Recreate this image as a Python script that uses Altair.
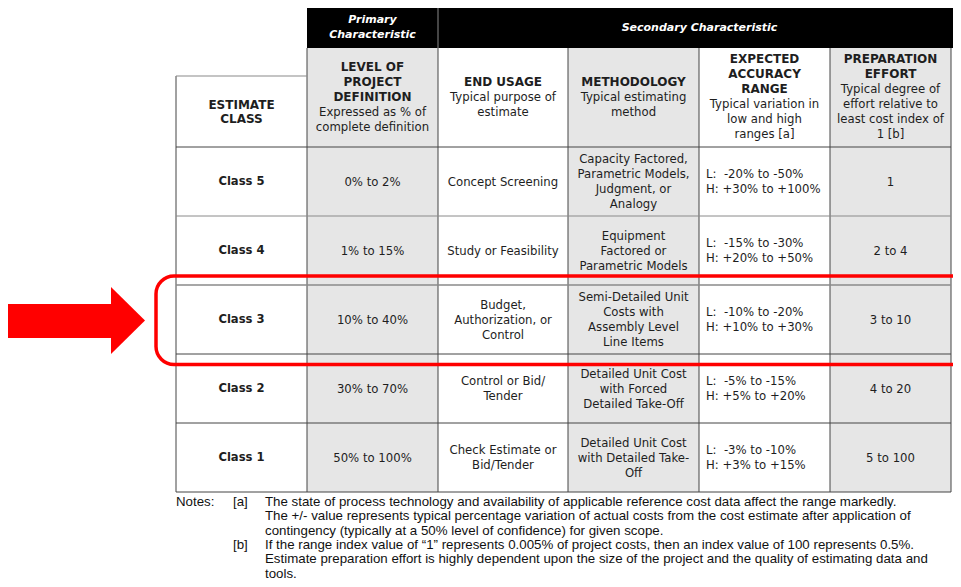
import altair as alt
import pandas as pd

# ---------------- data ----------------
CLASSES = ["Class 5", "Class 4", "Class 3", "Class 2", "Class 1"]
DEFINITION = ["0% to 2%", "1% to 15%", "10% to 40%", "30% to 70%", "50% to 100%"]
END_USAGE = [
    "Concept Screening",
    "Study or Feasibility",
    "Budget,\nAuthorization, or\nControl",
    "Control or Bid/\nTender",
    "Check Estimate or\nBid/Tender",
]
METHODOLOGY = [
    "Capacity Factored,\nParametric Models,\nJudgment, or\nAnalogy",
    "Equipment\nFactored or\nParametric Models",
    "Semi-Detailed Unit\nCosts with\nAssembly Level\nLine Items",
    "Detailed Unit Cost\nwith Forced\nDetailed Take-Off",
    "Detailed Unit Cost\nwith Detailed Take-\nOff",
]
ACCURACY_LOW = ["-20% to -50%", "-15% to -30%", "-10% to -20%", "-5% to -15%", "-3% to -10%"]
ACCURACY_HIGH = ["+30% to +100%", "+20% to +50%", "+10% to +30%", "+5% to +20%", "+3% to +15%"]
EFFORT = ["1", "2 to 4", "3 to 10", "4 to 20", "5 to 100"]

HEADER_TITLES = [
    ["ESTIMATE", "CLASS"],
    ["LEVEL OF", "PROJECT", "DEFINITION"],
    ["END USAGE"],
    ["METHODOLOGY"],
    ["EXPECTED", "ACCURACY", "RANGE"],
    ["PREPARATION", "EFFORT"],
]
HEADER_SUBTITLES = [
    [],
    ["Expressed as % of", "complete definition"],
    ["Typical purpose of", "estimate"],
    ["Typical estimating", "method"],
    ["Typical variation in", "low and high", "ranges [a]"],
    ["Typical degree of", "effort relative to", "least cost index of", "1 [b]"],
]
GROUP_LABELS = ["Primary\nCharacteristic", "Secondary Characteristic"]
NOTES_LABEL = "Notes:"
NOTE_TAGS = ["[a]", "[b]"]
NOTE_TEXTS = [
    [
        "The state of process technology and availability of applicable reference cost data affect the range markedly.",
        "The +/- value represents typical percentage variation of actual costs from the cost estimate after application of",
        "contingency (typically at a 50% level of confidence) for given scope.",
    ],
    [
        "If the range index value of \u201c1\u201d represents 0.005% of project costs, then an index value of 100 represents 0.5%.",
        "Estimate preparation effort is highly dependent upon the size of the project and the quality of estimating data and",
        "tools.",
    ],
]
HIGHLIGHT = "Class 3"

# ---------------- layout ----------------
W, H = 945, 571                      # visible plot area (page minus 8px margins)
X0, X1, Y0, Y1 = 8, 8 + W, 8, 8 + H  # page-pixel domain
COL_EDGES = [176, 307, 438, 568, 699, 830, 951]
BLACK_TOP, BLACK_BOTTOM = 8, 48
CLASS_HEAD_TOP = 76
ROW_EDGES = [147, 216, 285, 354, 423, 492]
LINE_H = 15
NOTE_Y0, NOTE_DY = 502, 14.3
GRAY = "#e6e6e6"
LINE_DARK = "#444444"
LINE_GRAY = "#8a8a8a"
TEXT = "#1e1e1e"
RED = "#ff0000"
FONT = "DejaVu Sans"
NOTE_FONT = "Liberation Sans"

XS = alt.Scale(domain=[X0, X1], nice=False, zero=False)
YS = alt.Scale(domain=[Y0, Y1], nice=False, zero=False, reverse=True)


def X(f="x"):
    return alt.X(f"{f}:Q", scale=XS, axis=None)


def Y(f="y"):
    return alt.Y(f"{f}:Q", scale=YS, axis=None)


def centre(i):
    return (COL_EDGES[i] + COL_EDGES[i + 1]) / 2


def block(text, x, cy, lh, **kw):
    parts = text.split("\n")
    n = len(parts)
    return [dict(x=x, y=cy + (k - (n - 1) / 2) * lh, t=p, **kw) for k, p in enumerate(parts)]


# background rects
rects = [
    dict(x=COL_EDGES[1], x2=COL_EDGES[2], y=BLACK_TOP, y2=BLACK_BOTTOM, fill="#000000"),
    dict(x=COL_EDGES[2], x2=X1, y=BLACK_TOP, y2=BLACK_BOTTOM, fill="#000000"),
]
for i in (1, 3, 5):
    rects.append(dict(x=COL_EDGES[i], x2=COL_EDGES[i + 1], y=BLACK_BOTTOM, y2=ROW_EDGES[-1], fill=GRAY))
rect_df = pd.DataFrame(rects)

# grid lines
hi = CLASSES.index(HIGHLIGHT)
lines = []
for i, cx in enumerate(COL_EDGES):
    top = CLASS_HEAD_TOP if i == 0 else BLACK_BOTTOM
    lines.append(dict(x=cx, x2=cx, y=top, y2=ROW_EDGES[-1], c=LINE_DARK, w=1))
lines.append(dict(x=COL_EDGES[2], x2=COL_EDGES[2], y=BLACK_TOP, y2=BLACK_BOTTOM, c=LINE_GRAY, w=1))
lines.append(dict(x=COL_EDGES[0], x2=COL_EDGES[1], y=CLASS_HEAD_TOP, y2=CLASS_HEAD_TOP, c=LINE_GRAY, w=1.2))
for j, ry in enumerate(ROW_EDGES):
    is_hi = j == hi
    col = LINE_GRAY if (is_hi or j == 1) else LINE_DARK
    lines.append(dict(x=COL_EDGES[0], x2=COL_EDGES[-1], y=ry, y2=ry, c=col, w=1.5 if is_hi else 1))
line_df = pd.DataFrame(lines)

# header texts
head_rows = []
for i, (titles, subs) in enumerate(zip(HEADER_TITLES, HEADER_SUBTITLES)):
    if i == 0:
        cy, lh = (CLASS_HEAD_TOP + ROW_EDGES[0]) / 2, 14
    else:
        cy, lh = 96.5, LINE_H
    allines = [(t, "bold") for t in titles] + [(s, "normal") for s in subs]
    n = len(allines)
    for k, (t, wgt) in enumerate(allines):
        head_rows.append(dict(x=centre(i), y=cy + (k - (n - 1) / 2) * lh, t=t, w=wgt))
head_df = pd.DataFrame(head_rows)

gy = (7 + BLACK_BOTTOM) / 2
group_rows = block(GROUP_LABELS[0], centre(1), gy, 15) + block(GROUP_LABELS[1], (COL_EDGES[2] + 961) / 2, gy, 15)
group_df = pd.DataFrame(group_rows)

# body texts
body = []
for r, cls in enumerate(CLASSES):
    cy = (ROW_EDGES[r] + ROW_EDGES[r + 1]) / 2
    body += block(cls, centre(0), cy, LINE_H, w="bold", a="center")
    body += block(DEFINITION[r], centre(1), cy, LINE_H, w="normal", a="center")
    body += block(END_USAGE[r], centre(2), cy, LINE_H, w="normal", a="center")
    body += block(METHODOLOGY[r], centre(3), cy, LINE_H, w="normal", a="center")
    body += block(EFFORT[r], centre(5), cy, LINE_H, w="normal", a="center")
    body += block("L:\u00a0 " + ACCURACY_LOW[r] + "\nH: " + ACCURACY_HIGH[r],
                  COL_EDGES[4] + 7, cy, LINE_H, w="normal", a="left")
body_df = pd.DataFrame(body)

# notes
notes = [dict(x=COL_EDGES[0], y=NOTE_Y0, t=NOTES_LABEL)]
k = 0
for tag, texts in zip(NOTE_TAGS, NOTE_TEXTS):
    notes.append(dict(x=233, y=NOTE_Y0 + k * NOTE_DY, t=tag))
    for line in texts:
        notes.append(dict(x=265, y=NOTE_Y0 + k * NOTE_DY, t=line))
        k += 1
notes_df = pd.DataFrame(notes)

# highlight box + arrow
box_df = pd.DataFrame([dict(x=156, x2=990, y=ROW_EDGES[hi] - 9, y2=ROW_EDGES[hi + 1] + 10.5)])
arrow_cy = (ROW_EDGES[hi] + ROW_EDGES[hi + 1]) / 2 + 1
shaft_df = pd.DataFrame([dict(x=8, x2=111, y=arrow_cy - 16.5, y2=arrow_cy + 17.5)])
head_tri_df = pd.DataFrame([
    dict(x=111, y=arrow_cy - 33.5, y2=arrow_cy + 33.5),
    dict(x=145, y=arrow_cy, y2=arrow_cy),
])

# ---------------- marks ----------------
rect_layer = alt.Chart(rect_df).mark_rect(strokeWidth=0).encode(
    x=X(), x2="x2:Q", y=Y(), y2="y2:Q", color=alt.Color("fill:N", scale=None)
)
line_layer = alt.Chart(line_df).mark_rule().encode(
    x=X(), x2="x2:Q", y=Y(), y2="y2:Q",
    color=alt.Color("c:N", scale=None),
    strokeWidth=alt.StrokeWidth("w:Q", scale=None),
)
group_layer = alt.Chart(group_df).mark_text(
    font=FONT, fontSize=11, fontWeight="bold", fontStyle="italic", color="#ffffff",
    align="center", baseline="middle",
).encode(x=X(), y=Y(), text="t:N")


def filt(df, **conds):
    c = alt.Chart(df)
    for k_, v_ in conds.items():
        c = c.transform_filter(alt.FieldEqualPredicate(field=k_, equal=v_))
    return c


head_bold = filt(head_df, w="bold").mark_text(
    font=FONT, fontSize=12, fontWeight="bold", color=TEXT, align="center", baseline="middle"
).encode(x=X(), y=Y(), text="t:N")
head_norm = filt(head_df, w="normal").mark_text(
    font=FONT, fontSize=11.7, color=TEXT, align="center", baseline="middle"
).encode(x=X(), y=Y(), text="t:N")

body_bold = filt(body_df, a="center", w="bold").mark_text(
    font=FONT, fontSize=11.6, fontWeight="bold", color=TEXT, align="center", baseline="middle"
).encode(x=X(), y=Y(), text="t:N")
body_norm = filt(body_df, a="center", w="normal").mark_text(
    font=FONT, fontSize=11.7, color=TEXT, align="center", baseline="middle"
).encode(x=X(), y=Y(), text="t:N")
body_left = filt(body_df, a="left").mark_text(
    font=FONT, fontSize=11.7, color=TEXT, align="left", baseline="middle"
).encode(x=X(), y=Y(), text="t:N")

notes_layer = alt.Chart(notes_df).mark_text(
    font=NOTE_FONT, fontSize=13.3, color="#111111", align="left", baseline="middle"
).encode(x=X(), y=Y(), text="t:N")

box_layer = alt.Chart(box_df).mark_rect(
    fill="#ffffff", fillOpacity=0, stroke=RED, strokeWidth=3.5, cornerRadius=18
).encode(x=X(), x2="x2:Q", y=Y(), y2="y2:Q")

shaft_layer = alt.Chart(shaft_df).mark_rect(color=RED).encode(
    x=X(), x2="x2:Q", y=Y(), y2="y2:Q"
)
tri_layer = alt.Chart(head_tri_df).mark_area(color=RED, orient="vertical").encode(
    x=X(), y=Y(), y2="y2:Q"
)

chart = alt.layer(
    rect_layer, line_layer, group_layer, head_bold, head_norm,
    body_bold, body_norm, body_left, notes_layer, box_layer, shaft_layer, tri_layer,
).properties(
    width=W, height=H, padding=0, autosize=alt.AutoSizeParams(type="none"),
    background="#ffffff",
).configure_view(stroke=None)

chart.save("out.html", embed_options={"renderer": "svg", "actions": False})
